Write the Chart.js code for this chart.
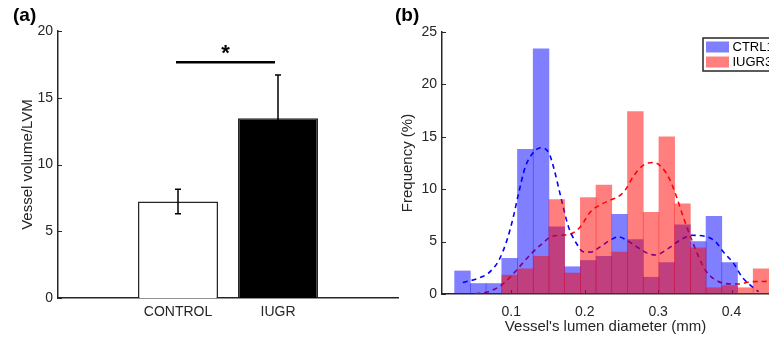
<!DOCTYPE html>
<html lang="en">
<head>
    <meta charset="UTF-8">
    <title>Vessel volume and lumen diameter</title>
    <script src="https://cdn.jsdelivr.net/npm/chart.js"></script>
    <style>
        body, html {
            margin: 0;
            padding: 0;
            width: 769px;
            height: 339px;
            overflow: hidden;
            background: #fff;
        }
        canvas { position: absolute; top: 0; }
        #chartA { left: 0; }
        #chartB { left: 385px; }
    </style>
</head>
<body>
    <canvas id="chartA" width="400" height="339"></canvas>
    <canvas id="chartB" width="384" height="339"></canvas>

    <script>
        // (a) vessel volume per group
        const groups = ['CONTROL', 'IUGR'];
        const groupPos = [1, 2];
        const volumeMean = [7.23, 13.46];
        const volumeErr = [0.91, 3.24];
        const volumeTicks = [0, 5, 10, 15, 20];
        const sigPair = [0.98, 1.97];
        const sigLevel = 17.65;
        const sigMark = '*';

        // (b) lumen diameter histograms
        const seriesNames = ['CTRL1', 'IUGR3'];
        const binEdges = [0.0229, 0.0443, 0.0657, 0.0871, 0.1085, 0.1299, 0.1513, 0.1727, 0.1941, 0.2155, 0.2369,
            0.2583, 0.2797, 0.3011, 0.3225, 0.3439, 0.3653, 0.3867, 0.4081, 0.4295, 0.4509];
        const ctrlFreq = [2.2, 1.0, 1.0, 3.4, 13.8, 23.4, 6.4, 2.6, 3.2, 3.6, 7.6, 5.2, 1.6, 3.0, 6.6, 5.0, 7.4, 3.0, 0, 0];
        const iugrFreq = [0, 0, 0, 1.8, 2.4, 3.6, 9.0, 2.0, 9.2, 10.4, 4.0, 17.4, 7.8, 15.0, 8.6, 4.4, 0.6, 0.8, 0.6, 2.4];
        const ctrlFitX = [0.034, 0.055, 0.069, 0.083, 0.094, 0.103, 0.110, 0.119, 0.129, 0.140, 0.151, 0.158, 0.167,
            0.178, 0.189, 0.198, 0.208, 0.221, 0.235, 0.246, 0.257, 0.271, 0.285, 0.296, 0.314, 0.330, 0.346, 0.364,
            0.378, 0.389, 0.403, 0.414, 0.428, 0.437];
        const ctrlFitY = [1.1, 1.5, 2.0, 3.2, 5.1, 7.4, 9.6, 12.1, 13.4, 13.95, 13.5, 12.0, 9.4,
            6.4, 4.8, 4.03, 4.0, 4.5, 5.15, 5.45, 5.15, 4.5, 3.9, 3.72, 4.35, 5.15, 5.6, 5.5,
            5.0, 4.0, 2.9, 1.65, 0.7, 0.22];
        const iugrFitX = [0.051, 0.069, 0.087, 0.101, 0.115, 0.128, 0.142, 0.155, 0.167, 0.183, 0.194, 0.208, 0.221,
            0.235, 0.246, 0.255, 0.266, 0.280, 0.294, 0.305, 0.316, 0.325, 0.334, 0.344, 0.353, 0.364, 0.375, 0.391,
            0.409, 0.428, 0.448];
        const iugrFitY = [0, 0.22, 0.86, 1.8, 2.9, 3.9, 4.8, 5.5, 5.6, 5.8, 6.4, 7.85, 8.5,
            8.96, 9.3, 9.9, 11.2, 12.3, 12.55, 12.1, 10.9, 9.3, 7.4, 5.5, 3.9, 2.3, 1.5, 1.0,
            0.95, 1.18, 1.2];
        const diamTicks = [0.1, 0.2, 0.3, 0.4];
        const freqTicks = [0, 5, 10, 15, 20, 25];

        const AXIS = '#262626';
        const FONT = "'Liberation Sans', Arial, Helvetica, sans-serif";
        Chart.defaults.font.family = FONT;
        Chart.defaults.color = AXIS;
        Chart.defaults.animation = false;

        // MATLAB style ticks pointing into the plot
        const inwardTicks = {
            id: 'inwardTicks',
            beforeDatasetsDraw(chart) {
                const { ctx, chartArea: a, scales: { x, y } } = chart;
                ctx.save();
                ctx.strokeStyle = AXIS;
                ctx.lineWidth = 1;
                ctx.beginPath();
                y.ticks.forEach(t => {
                    const py = Math.round(y.getPixelForValue(t.value)) + 0.5;
                    ctx.moveTo(a.left, py);
                    ctx.lineTo(a.left + 4, py);
                });
                x.ticks.forEach(t => {
                    const px = Math.round(x.getPixelForValue(t.value)) + 0.5;
                    ctx.moveTo(px, a.bottom);
                    ctx.lineTo(px, a.bottom - 4);
                });
                ctx.stroke();
                ctx.restore();
            }
        };

        const annotA = {
            id: 'annotA',
            afterDatasetsDraw(chart) {
                const { ctx, scales: { x, y } } = chart;
                ctx.save();
                ctx.strokeStyle = '#000';
                ctx.lineWidth = 1.5;
                groupPos.forEach((g, i) => {
                    const px = x.getPixelForValue(g);
                    const hi = y.getPixelForValue(volumeMean[i] + volumeErr[i]);
                    const lo = y.getPixelForValue(volumeMean[i] - volumeErr[i]);
                    ctx.beginPath();
                    ctx.moveTo(px, hi); ctx.lineTo(px, lo);
                    ctx.moveTo(px - 3, hi); ctx.lineTo(px + 3, hi);
                    ctx.moveTo(px - 3, lo); ctx.lineTo(px + 3, lo);
                    ctx.stroke();
                });
                const x1 = x.getPixelForValue(sigPair[0]);
                const x2 = x.getPixelForValue(sigPair[1]);
                const sy = y.getPixelForValue(sigLevel);
                ctx.strokeStyle = '#000';
                ctx.lineWidth = 2.5;
                ctx.beginPath();
                ctx.moveTo(x1, sy); ctx.lineTo(x2, sy);
                ctx.stroke();
                ctx.fillStyle = '#000';
                ctx.textAlign = 'center';
                ctx.textBaseline = 'alphabetic';
                ctx.font = 'bold 22px ' + FONT;
                ctx.fillText(sigMark, (x1 + x2) / 2, sy - 2);
                ctx.textAlign = 'left';
                ctx.font = 'bold 19px ' + FONT;
                ctx.fillText('(a)', 13, 21);
                ctx.restore();
            }
        };

        new Chart(document.getElementById('chartA'), {
            type: 'bar',
            data: {
                datasets: [{
                    data: groupPos.map((g, i) => ({ x: g, y: volumeMean[i] })),
                    backgroundColor: ['#ffffff', '#000000'],
                    borderColor: AXIS,
                    borderWidth: 1.5,
                    barPercentage: 0.8,
                    categoryPercentage: 1
                }]
            },
            options: {
                responsive: false,
                layout: { padding: { top: 31, right: 2, left: 0, bottom: 0 } },
                plugins: { legend: { display: false }, tooltip: { enabled: false } },
                scales: {
                    x: {
                        type: 'linear', min: -0.2, max: 3.2, offset: false,
                        grid: { display: false, drawTicks: false },
                        border: { color: AXIS, width: 1.5 },
                        afterBuildTicks: s => { s.ticks = groupPos.map(v => ({ value: v })); },
                        afterFit: s => { s.height = 41; },
                        ticks: { callback: (v, i) => groups[i], padding: 6, font: { size: 14 }, maxRotation: 0, autoSkip: false }
                    },
                    y: {
                        min: 0, max: 20,
                        grid: { display: false, drawTicks: false },
                        border: { color: AXIS, width: 1.5 },
                        afterBuildTicks: s => { s.ticks = volumeTicks.map(v => ({ value: v })); },
                        afterFit: s => { s.width = 58; },
                        ticks: { padding: 5, font: { size: 14 } },
                        title: { display: true, text: 'Vessel volume/LVM', font: { size: 15 }, padding: { top: 19, bottom: 0 } }
                    }
                }
            },
            plugins: [inwardTicks, annotA]
        });

        const annotB = {
            id: 'annotB',
            afterDraw(chart) {
                const { ctx } = chart;
                const ds = chart.data.datasets;
                ctx.save();
                ctx.fillStyle = '#fff';
                ctx.fillRect(318, 38, 80, 33);
                ctx.strokeStyle = AXIS;
                ctx.lineWidth = 1.5;
                ctx.strokeRect(318, 38, 80, 33);
                ctx.font = '13px ' + FONT;
                ctx.textBaseline = 'middle';
                ctx.textAlign = 'left';
                seriesNames.forEach((name, i) => {
                    const set = ds.find(d => d.label === name);
                    const top = 41.5 + i * 15;
                    ctx.fillStyle = '#fff';
                    ctx.fillRect(321, top, 23, 11);
                    ctx.fillStyle = set.backgroundColor;
                    ctx.fillRect(321, top, 23, 11);
                    ctx.fillStyle = '#000';
                    ctx.fillText(name, 347.5, top + 6);
                });
                ctx.fillStyle = '#000';
                ctx.textBaseline = 'alphabetic';
                ctx.font = 'bold 19px ' + FONT;
                ctx.fillText('(b)', 10, 21);
                ctx.restore();
            }
        };

        const binMid = binEdges.slice(1).map((e, i) => (binEdges[i] + e) / 2);

        new Chart(document.getElementById('chartB'), {
            type: 'bar',
            data: {
                datasets: [
                    {
                        type: 'bar', label: seriesNames[1],
                        data: binMid.map((m, i) => ({ x: m, y: iugrFreq[i] })),
                        backgroundColor: 'rgba(255,0,0,0.5)',
                        grouped: false, barPercentage: 1, categoryPercentage: 1, order: 0
                    },
                    {
                        type: 'bar', label: seriesNames[0],
                        data: binMid.map((m, i) => ({ x: m, y: ctrlFreq[i] })),
                        backgroundColor: 'rgba(0,0,255,0.5)',
                        grouped: false, barPercentage: 1, categoryPercentage: 1, order: 1
                    },
                    {
                        type: 'line', label: 'CTRL fit',
                        data: ctrlFitX.map((v, i) => ({ x: v, y: ctrlFitY[i] })),
                        borderColor: '#0000ff', borderWidth: 1.6, borderDash: [5, 4],
                        pointRadius: 0, cubicInterpolationMode: 'monotone', order: 2
                    },
                    {
                        type: 'line', label: 'IUGR fit',
                        data: iugrFitX.map((v, i) => ({ x: v, y: iugrFitY[i] })),
                        borderColor: '#ff0000', borderWidth: 1.6, borderDash: [5, 4],
                        pointRadius: 0, cubicInterpolationMode: 'monotone', order: 2
                    }
                ]
            },
            options: {
                responsive: false,
                layout: { padding: { top: 32, right: 0, left: 0, bottom: 0 } },
                plugins: { legend: { display: false }, tooltip: { enabled: false } },
                scales: {
                    x: {
                        type: 'linear', min: 0.0057, max: 0.451, offset: false,
                        grid: { display: false, drawTicks: false },
                        border: { color: AXIS, width: 1.5 },
                        afterBuildTicks: s => { s.ticks = diamTicks.map(v => ({ value: v })); },
                        afterFit: s => { s.height = 45; },
                        ticks: { callback: (v, i) => String(diamTicks[i]), padding: 10, font: { size: 14 }, maxRotation: 0, autoSkip: false },
                        title: { display: true, text: "Vessel's lumen diameter (mm)", font: { size: 15 }, padding: { top: 0, bottom: 3 } }
                    },
                    y: {
                        min: 0, max: 25,
                        grid: { display: false, drawTicks: false },
                        border: { color: AXIS, width: 1.5 },
                        afterBuildTicks: s => { s.ticks = freqTicks.map(v => ({ value: v })); },
                        afterFit: s => { s.width = 57; },
                        ticks: { padding: 5, font: { size: 14 } },
                        title: { display: true, text: 'Frequency (%)', font: { size: 15 }, padding: { top: 14, bottom: 0 } }
                    }
                }
            },
            plugins: [inwardTicks, annotB]
        });
    </script>
</body>
</html>
